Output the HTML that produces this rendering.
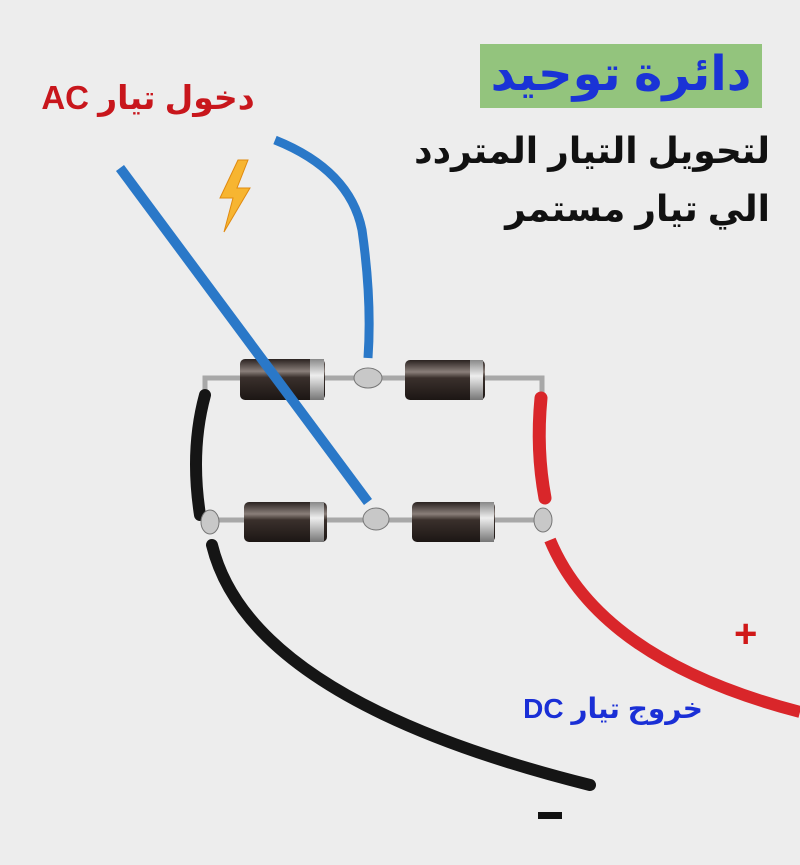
<!DOCTYPE html>
<html><head><meta charset="utf-8"><style>
html,body{margin:0;padding:0;width:800px;height:865px;overflow:hidden;background:#ededed;}
svg{position:absolute;left:0;top:0}
.t{position:absolute;font-family:"Liberation Sans","DejaVu Sans",sans-serif;font-weight:bold;white-space:nowrap;direction:rtl}
</style></head><body>
<svg width="800" height="865" viewBox="0 0 800 865">
<defs>
<linearGradient id="d" x1="0" y1="0" x2="0" y2="1">
<stop offset="0" stop-color="#2a2220"/><stop offset="0.3" stop-color="#8a7f7a"/><stop offset="0.45" stop-color="#3a302c"/><stop offset="1" stop-color="#1c1614"/></linearGradient>
<linearGradient id="s" x1="0" y1="0" x2="0" y2="1">
<stop offset="0" stop-color="#888"/><stop offset="0.4" stop-color="#eee"/><stop offset="1" stop-color="#777"/></linearGradient>
</defs>
<path d="M205 395 L205 378 L542 378 L542 393" stroke="#a8a8a8" stroke-width="5" fill="none"/>
<path d="M208 520 L548 520" stroke="#a8a8a8" stroke-width="5" fill="none"/>
<path d="M205 395 Q190 450 200 515" stroke="#151515" stroke-width="12" fill="none" stroke-linecap="round"/>
<path d="M212 545 Q250 700 590 785" stroke="#151515" stroke-width="12" fill="none" stroke-linecap="round"/>
<path d="M541 398 Q536 450 545 498" stroke="#d9262a" stroke-width="13" fill="none" stroke-linecap="round"/>
<path d="M550 540 Q600 660 800 712" stroke="#d9262a" stroke-width="12" fill="none"/>
<path d="M275 140 Q350 170 362 230 Q372 300 368 358" stroke="#2a78c8" stroke-width="9" fill="none"/>
<g>
<rect x="240" y="359" width="85" height="41" rx="5" fill="url(#d)"/><rect x="310" y="359" width="14" height="41" fill="url(#s)"/>
<rect x="405" y="360" width="80" height="40" rx="5" fill="url(#d)"/><rect x="470" y="360" width="13" height="40" fill="url(#s)"/>
<rect x="244" y="502" width="83" height="40" rx="5" fill="url(#d)"/><rect x="310" y="502" width="14" height="40" fill="url(#s)"/>
<rect x="412" y="502" width="83" height="40" rx="5" fill="url(#d)"/><rect x="480" y="502" width="14" height="40" fill="url(#s)"/>
<ellipse cx="368" cy="378" rx="14" ry="10" fill="#c8c8c8" stroke="#777"/>
<ellipse cx="376" cy="519" rx="13" ry="11" fill="#c8c8c8" stroke="#777"/>
<ellipse cx="543" cy="520" rx="9" ry="12" fill="#c8c8c8" stroke="#777"/>
<ellipse cx="210" cy="522" rx="9" ry="12" fill="#c8c8c8" stroke="#777"/>
</g>
<path d="M120 168 L368 502" stroke="#2a78c8" stroke-width="10" fill="none"/>
<path d="M238 160 L220 198 L233 198 L224 232 L250 188 L237 188 L248 160 Z" fill="#f7b531" stroke="#e08a10" stroke-width="1"/>
<rect x="480" y="44" width="282" height="64" fill="#93c47d"/>
</svg>
<div class="t" style="left:480px;top:44px;width:282px;height:64px;line-height:62px;text-align:center;font-size:48px;color:#1a33d6;">دائرة توحيد</div>
<div class="t" style="right:30px;top:130px;font-size:36px;color:#111;">لتحويل التيار المتردد</div>
<div class="t" style="right:30px;top:188px;font-size:36px;color:#111;">الي تيار مستمر</div>
<div class="t" style="left:30px;top:78px;width:236px;text-align:center;font-size:33px;color:#c8161c;">دخول تيار AC</div>
<div class="t" style="left:516px;top:692px;width:194px;text-align:center;font-size:28px;color:#1a2fd6;">خروج تيار DC</div>
<div class="t" style="left:734px;top:612px;font-size:40px;color:#d01818;">+</div>
<div style="position:absolute;left:538px;top:812px;width:24px;height:7px;background:#111"></div>
</body></html>
